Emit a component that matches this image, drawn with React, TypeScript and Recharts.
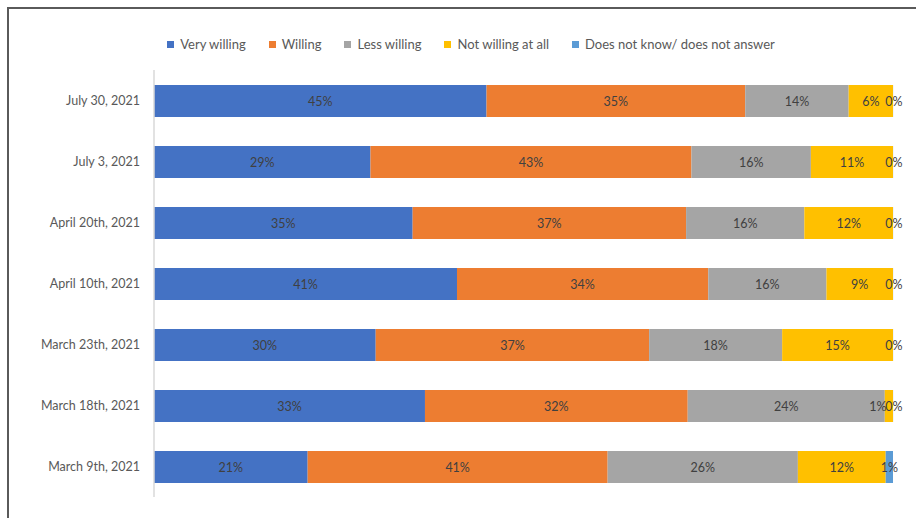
import { Bar, BarChart, LabelList, XAxis, YAxis } from "recharts";

const dates = [
  "July 30, 2021",
  "July 3, 2021",
  "April 20th, 2021",
  "April 10th, 2021",
  "March 23th, 2021",
  "March 18th, 2021",
  "March 9th, 2021",
];
const veryWilling = [45, 29, 35, 41, 30, 33, 21];
const willing = [35, 43, 37, 34, 37, 32, 41];
const lessWilling = [14, 16, 16, 16, 18, 24, 26];
const notWilling = [6, 11, 12, 9, 15, 1, 12];
const dontKnow = [0, 0, 0, 0, 0, 0, 1];

const SERIES = [
  { key: "veryWilling", name: "Very willing", color: "#4472C4", values: veryWilling },
  { key: "willing", name: "Willing", color: "#ED7D31", values: willing },
  { key: "lessWilling", name: "Less willing", color: "#A5A5A5", values: lessWilling },
  { key: "notWilling", name: "Not willing at all", color: "#FFC000", values: notWilling },
  { key: "dontKnow", name: "Does not know/ does not answer", color: "#5B9BD5", values: dontKnow },
];

const data = dates.map((date, i) => {
  const row: Record<string, string | number> = { date };
  SERIES.forEach((s) => {
    row[s.key] = s.values[i];
  });
  return row;
});

const FONT = "Lato, 'Open Sans', sans-serif";

// excel still prints "0%" for empty segments, so draw labels ourselves
const PctLabel = (props: any) => {
  const { x, y, width, height, value } = props;
  if (value == null) return null;
  const w = Number(width || 0);
  let cx = Number(x) + w / 2;
  if (value === 0) cx = Number(x) + 1;
  else if (w < 10 && props.seriesKey === "notWilling") cx -= 11; // nudged off the 0% like the original
  return (
    <text
      x={cx}
      y={Number(y) + Number(height || 0) / 2}
      textAnchor="middle"
      dominantBaseline="central"
      fill="#404040"
      fontSize={12.5}
      fontFamily={FONT}
    >
      {`${value}%`}
    </text>
  );
};

export default function App() {
  return (
    <div
      style={{
        position: "fixed",
        left: 0,
        top: 0,
        width: 916,
        height: 518,
        background: "white",
        fontFamily: FONT,
      }}
    >
      {/* frame edges visible in the crop */}
      <div
        style={{
          position: "absolute",
          left: 7,
          top: 7,
          right: 0,
          bottom: 0,
          borderTop: "2px solid #5a5a5a",
          borderLeft: "2px solid #5a5a5a",
        }}
      />
      <div
        style={{
          position: "absolute",
          top: 36,
          left: 0,
          width: 916,
          display: "flex",
          justifyContent: "center",
          gap: 23,
          fontSize: 13,
          color: "#595959",
          paddingLeft: 26,
          boxSizing: "border-box",
        }}
      >
        {SERIES.map((s) => (
          <span key={s.key} style={{ display: "flex", alignItems: "center" }}>
            <span
              style={{
                width: 7,
                height: 7,
                background: s.color,
                marginRight: 6,
                display: "inline-block",
              }}
            />
            {s.name}
          </span>
        ))}
      </div>
      <BarChart
        width={916}
        height={518}
        data={data}
        layout="vertical"
        stackOffset="expand"
        barSize={32}
        margin={{ top: 70, right: 23, bottom: 21, left: 0 }}
        style={{ position: "absolute", left: 0, top: 0 }}
      >
        <XAxis type="number" hide domain={[0, 1]} />
        <YAxis
          type="category"
          dataKey="date"
          width={154}
          tickLine={false}
          tickSize={6}
          tickMargin={8}
          axisLine={{ stroke: "#D9D9D9", strokeWidth: 1.5 }}
          tick={{ fill: "#595959", fontSize: 12.5, fontFamily: FONT }}
        />
        {SERIES.map((s) => (
          <Bar
            key={s.key}
            dataKey={s.key}
            name={s.name}
            stackId="a"
            fill={s.color}
            minPointSize={0.1}
            isAnimationActive={false}
          >
            <LabelList
              dataKey={s.key}
              content={(p: any) => <PctLabel {...p} seriesKey={s.key} />}
            />
          </Bar>
        ))}
      </BarChart>
    </div>
  );
}
